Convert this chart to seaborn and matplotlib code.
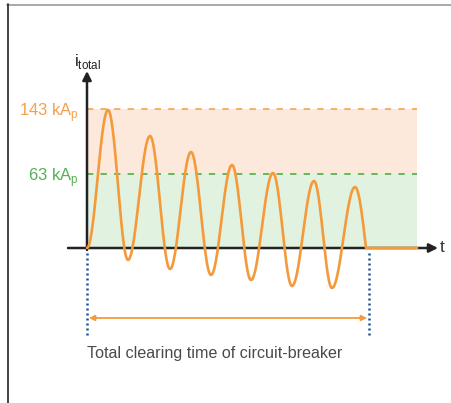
import numpy as np
import pandas as pd
import matplotlib.pyplot as plt
import seaborn as sns

# schematic units, origin of the i/t axes at (0, 0)
peak_t = [21, 63, 104, 145, 186, 227, 268]
peak_i = [138, 112, 96, 83, 75, 67, 61]
trough_t = [0, 41, 83, 124, 164, 205, 245]
trough_i = [0, -12, -21, -27, -32, -38, -40]
cut_t = 279      # current cut to zero by the breaker
end_t = 330      # end of the shaded bands / flat line

levels = [139, 74]                  # 143 kAp line, 63 kAp line
level_labels = ['143 kA$_\\mathrm{p}$', '63 kA$_\\mathrm{p}$']
clear_span = [0, 282]
caption = 'Total clearing time of circuit-breaker'

orange = '#f49a3a'
green = '#55b055'


def wave():
    # half-cosine between consecutive extrema
    ext_t, ext_i = [], []
    for a, b, c, d in zip(trough_t, trough_i, peak_t, peak_i):
        ext_t += [a, c]
        ext_i += [b, d]
    ts, ys = [], []
    for k in range(len(ext_t) - 1):
        s = np.linspace(0, 1, 30)
        ts.append(ext_t[k] + (ext_t[k + 1] - ext_t[k]) * s)
        ys.append(ext_i[k] + (ext_i[k + 1] - ext_i[k]) * (1 - np.cos(np.pi * s)) / 2)
    s = np.linspace(0, 1, 20)
    ts.append(ext_t[-1] + (cut_t - ext_t[-1]) * s)
    ys.append(ext_i[-1] * np.cos(np.pi / 2 * s))
    ts.append(np.array([cut_t, end_t]))
    ys.append(np.array([0, 0]))
    return pd.DataFrame({'t': np.concatenate(ts), 'i': np.concatenate(ys)})


sns.set_theme(style='white')
plt.rcParams['font.family'] = ['Liberation Sans', 'DejaVu Sans']
plt.rcParams['mathtext.fontset'] = 'custom'
plt.rcParams['mathtext.rm'] = 'Liberation Sans'

fig = plt.figure(figsize=(4.52, 4.03), dpi=100)
ax = fig.add_axes([0, 0, 1, 1])
ax.set_xlim(-87, 365)
ax.set_ylim(-155, 248)
ax.axis('off')

# frame of the picture
fig.add_artist(plt.Line2D([7 / 452, 1], [1 - 4.5 / 403] * 2, color='#999999', lw=1.2))
fig.add_artist(plt.Line2D([7.5 / 452] * 2, [0, 1 - 4 / 403], color='#222222', lw=1.2))

# bands
ax.fill_between([0, end_t], levels[1], levels[0], color='#fde9dc', lw=0, zorder=1)
ax.fill_between([0, end_t], 0, levels[1], color='#e2f2e1', lw=0, zorder=1)
ax.plot([0, end_t], [levels[0]] * 2, color='#f6a95c', lw=1.3, ls=(0, (3.5, 4)), zorder=2)
ax.plot([0, end_t], [levels[1]] * 2, color='#5cb250', lw=1.3, ls=(0, (3.5, 4)), zorder=2)
ax.text(-8, levels[0] - 7, level_labels[0], color='#f4a04a', fontsize=12,
        ha='right', va='baseline')
ax.text(-8, levels[1] - 7, level_labels[1], color=green, fontsize=12,
        ha='right', va='baseline')

# axes with arrows
ax.annotate('', xy=(0, 177), xytext=(0, -2),
            arrowprops=dict(arrowstyle='-|>', color='#222222', lw=1.8,
                            mutation_scale=13, shrinkA=0, shrinkB=0), zorder=3)
ax.annotate('', xy=(351, 0), xytext=(-19, 0),
            arrowprops=dict(arrowstyle='-|>', color='#222222', lw=1.8,
                            mutation_scale=13, shrinkA=0, shrinkB=0), zorder=3)
ax.text(1, 182, '$\\mathrm{i}_{\\mathrm{total}}$', fontsize=12, ha='center',
        va='baseline', color='#222222')
ax.text(353, 0, 't', fontsize=12.5, ha='left', va='center', color='#333333')

# current
sns.lineplot(data=wave(), x='t', y='i', ax=ax, color=orange, lw=1.9,
             sort=False, estimator=None, zorder=4)

# clearing time
for x in clear_span:
    ax.plot([x, x], [-5, -88], color='#1d4f91', lw=1.8, ls=(0, (0.8, 1.2)),
            zorder=3)
ax.annotate('', xy=(clear_span[1] - 2, -70), xytext=(clear_span[0] + 2, -70),
            arrowprops=dict(arrowstyle='<|-|>', color=orange, lw=1.3,
                            mutation_scale=8, shrinkA=0, shrinkB=0))
ax.text(0, -110, caption, fontsize=11.6, color='#4a4a4a', ha='left', va='baseline')

fig.savefig('out.png', dpi=100)
